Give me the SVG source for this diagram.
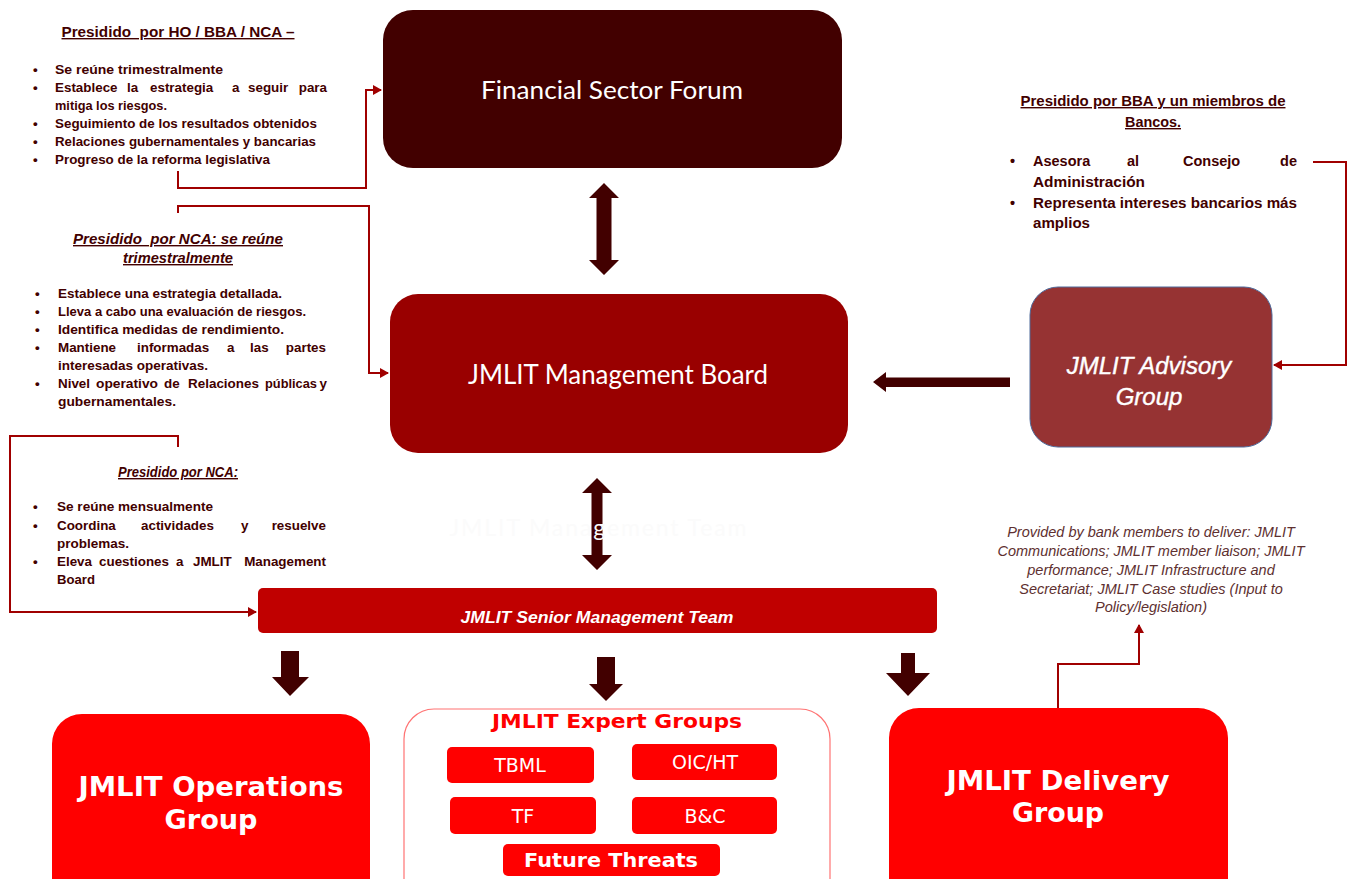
<svg xmlns="http://www.w3.org/2000/svg" width="1350" height="879" viewBox="0 0 1350 879">
<defs>
<style>
.note{font-family:"Liberation Sans",Arial,sans-serif;font-weight:bold;font-size:13.4px;fill:#420000}
.note .e{text-anchor:end}
.ttl{font-family:"Liberation Sans",Arial,sans-serif;font-weight:bold;font-size:14px;fill:#420000;text-decoration:underline}
.ittl{font-family:"Liberation Sans",Arial,sans-serif;font-weight:bold;font-style:italic;font-size:14px;fill:#420000;text-decoration:underline}
.rn{font-family:"Liberation Sans",Arial,sans-serif;font-weight:bold;font-size:14.5px;fill:#420000}
.rn .e{text-anchor:end}
.big{font-family:Lato,"Open Sans",sans-serif;fill:#ffffff;text-anchor:middle}
.bot{font-family:"DejaVu Sans",Verdana,sans-serif;font-weight:bold;fill:#ffffff;text-anchor:middle}
.sub{font-family:"DejaVu Sans",Verdana,sans-serif;fill:#ffffff;text-anchor:middle;font-size:19px}
.prov{font-family:"Liberation Sans",Arial,sans-serif;font-style:italic;font-size:14.5px;fill:#5e3030;text-anchor:middle}
.con{fill:none;stroke:#a00000;stroke-width:2}
.fat{fill:#420000}
</style>
<marker id="ah" markerWidth="10" markerHeight="10" refX="8" refY="5" orient="auto" markerUnits="userSpaceOnUse">
<path d="M0,0 L9,5 L0,10 z" fill="#a00000"/>
</marker>
</defs>
<rect width="1350" height="879" fill="#ffffff"/>

<!-- Connectors -->
<g id="connectors">
<path class="con" d="M178,171 V188 H366 V90 H381" marker-end="url(#ah)"/>
<path class="con" d="M178,213 V206 H369 V373 H388" marker-end="url(#ah)"/>
<path class="con" d="M178,447 V436 H10 V612 H256" marker-end="url(#ah)"/>
<path class="con" d="M1313,162 H1346 V365 H1274" marker-end="url(#ah)"/>
<path class="con" d="M1058,708 V664 H1139 V625" marker-end="url(#ah)"/>
<polygon class="fat" points="604,183 619,198 611.5,198 611.5,260 619,260 604,275 589,260 596.5,260 596.5,198 589,198"/>
<polygon class="fat" points="597,478 612,493 602.5,493 602.5,555 612,555 597,570 582,555 591.5,555 591.5,493 582,493"/>
<polygon class="fat" points="873,382 886,372 886,377.5 1010,377.5 1010,387 886,387 886,392"/>
<polygon class="fat" points="281,651 299,651 299,677 309,677 290,696 272,677 281,677"/>
<polygon class="fat" points="597,657 615,657 615,684 623,684 606,701 589,684 597,684"/>
<polygon class="fat" points="901,653 915,653 915,673 930,673 908,696 886,673 901,673"/>
</g>

<!-- Financial Sector Forum -->
<g id="fsf">
<rect x="383" y="10" width="459" height="158" rx="30" fill="#420000"/>
<text class="big" x="612" y="99" font-size="25" textLength="262" lengthAdjust="spacingAndGlyphs">Financial Sector Forum</text>
</g>

<!-- Management Board -->
<g id="mgmt-board">
<rect x="390" y="294" width="458" height="159" rx="28" fill="#990000"/>
<text class="big" x="618" y="384" font-size="26" textLength="300" lengthAdjust="spacingAndGlyphs">JMLIT Management Board</text>
</g>

<!-- Advisory Group -->
<g id="advisory">
<rect x="1030" y="287" width="242" height="160" rx="28" fill="#963333" stroke="#4f6a9a" stroke-width="1"/>
<text x="1149" y="374" font-family="Liberation Sans,Arial,sans-serif" font-style="italic" font-size="24" fill="#ffffff" stroke="#ffffff" stroke-width="0.4" text-anchor="middle">JMLIT Advisory</text>
<text x="1149" y="405" font-family="Liberation Sans,Arial,sans-serif" font-style="italic" font-size="24" fill="#ffffff" stroke="#ffffff" stroke-width="0.4" text-anchor="middle">Group</text>
</g>

<!-- faint label -->
<g id="faint">
<text x="598" y="536" font-family="Lato,sans-serif" font-size="23" fill="#fbfbfb" text-anchor="middle" textLength="297">JMLIT Management Team</text>
</g>

<!-- Senior Management Team -->
<g id="smt">
<rect x="258" y="588" width="679" height="45" rx="5" fill="#c00000"/>
<text x="597" y="623" font-family="Liberation Sans,Arial,sans-serif" font-style="italic" font-weight="bold" font-size="16.5" fill="#ffffff" text-anchor="middle" textLength="273" lengthAdjust="spacingAndGlyphs">JMLIT Senior Management Team</text>
</g>

<!-- Operations Group -->
<g id="ops">
<rect x="52" y="714" width="318" height="200" rx="30" fill="#ff0000"/>
<text class="bot" x="211" y="796" font-size="26" textLength="265" lengthAdjust="spacingAndGlyphs">JMLIT Operations</text>
<text class="bot" x="211" y="829" font-size="26" textLength="93" lengthAdjust="spacingAndGlyphs">Group</text>
</g>

<!-- Expert Groups -->
<g id="expert">
<rect x="404" y="709" width="426" height="200" rx="30" fill="#ffffff" stroke="#ff7373" stroke-width="1.2"/>
<text x="617" y="728" font-family="DejaVu Sans,Verdana,sans-serif" font-weight="bold" font-size="19.5" fill="#ff0000" text-anchor="middle" textLength="250" lengthAdjust="spacingAndGlyphs">JMLIT Expert Groups</text>
<rect x="447" y="747" width="147" height="36" rx="5" fill="#ff0000"/>
<text class="sub" x="520" y="772">TBML</text>
<rect x="632" y="744" width="145" height="36" rx="5" fill="#ff0000"/>
<text class="sub" x="705" y="769">OIC/HT</text>
<rect x="450" y="797" width="146" height="37" rx="5" fill="#ff0000"/>
<text class="sub" x="523" y="823">TF</text>
<rect x="632" y="797" width="145" height="37" rx="5" fill="#ff0000"/>
<text class="sub" x="705" y="823">B&amp;C</text>
<rect x="503" y="844" width="217" height="32" rx="5" fill="#ff0000"/>
<text class="bot" x="611" y="867" font-size="19.5" textLength="174" lengthAdjust="spacingAndGlyphs">Future Threats</text>
</g>

<!-- Delivery Group -->
<g id="delivery">
<rect x="889" y="708" width="339" height="200" rx="30" fill="#ff0000"/>
<text class="bot" x="1058" y="790" font-size="26" textLength="223" lengthAdjust="spacingAndGlyphs">JMLIT Delivery</text>
<text class="bot" x="1058" y="822" font-size="26" textLength="92" lengthAdjust="spacingAndGlyphs">Group</text>
</g>

<!-- Provided by note -->
<g id="provided-note">
<text class="prov" x="1151" y="537">Provided by bank members to deliver: JMLIT</text>
<text class="prov" x="1151" y="556">Communications; JMLIT member liaison; JMLIT</text>
<text class="prov" x="1151" y="575">performance; JMLIT Infrastructure and</text>
<text class="prov" x="1151" y="594">Secretariat; JMLIT Case studies (Input to</text>
<text class="prov" x="1151" y="612">Policy/legislation)</text>
</g>

<!-- Note 1 -->
<g id="note-fsf">
<text class="ttl" x="178" y="37" text-anchor="middle" textLength="233" lengthAdjust="spacingAndGlyphs" xml:space="preserve">Presidido  por HO / BBA / NCA –</text>
<g class="note">
<text x="33" y="74">•</text><text x="55" y="74" textLength="168" lengthAdjust="spacingAndGlyphs">Se reúne trimestralmente</text>
<text x="33" y="92">•</text>
<text x="55" y="92">Establece</text><text x="127" y="92">la</text><text x="150" y="92">estrategia</text><text x="232" y="92">a</text><text x="248" y="92">seguir</text><text class="e" x="327" y="92">para</text>
<text x="55" y="110" textLength="112" lengthAdjust="spacingAndGlyphs">mitiga los riesgos.</text>
<text x="33" y="128">•</text><text x="55" y="128" textLength="262" lengthAdjust="spacingAndGlyphs">Seguimiento de los resultados obtenidos</text>
<text x="33" y="146">•</text><text x="55" y="146" textLength="261" lengthAdjust="spacingAndGlyphs">Relaciones gubernamentales y bancarias</text>
<text x="33" y="164">•</text><text x="55" y="164" textLength="215" lengthAdjust="spacingAndGlyphs">Progreso de la reforma legislativa</text>
</g>
</g>

<!-- Note 2 -->
<g id="note-board">
<text class="ittl" x="178" y="244" text-anchor="middle" textLength="210" lengthAdjust="spacingAndGlyphs" xml:space="preserve">Presidido  por NCA: se reúne</text>
<text class="ittl" x="178" y="263" text-anchor="middle" textLength="110" lengthAdjust="spacingAndGlyphs">trimestralmente</text>
<g class="note">
<text x="35" y="298">•</text><text x="58" y="298" textLength="224" lengthAdjust="spacingAndGlyphs">Establece una estrategia detallada.</text>
<text x="35" y="316">•</text><text x="58" y="316" textLength="248" lengthAdjust="spacingAndGlyphs">Lleva a cabo una evaluación de riesgos.</text>
<text x="35" y="334">•</text><text x="58" y="334" textLength="226" lengthAdjust="spacingAndGlyphs">Identifica medidas de rendimiento.</text>
<text x="35" y="352">•</text>
<text x="58" y="352">Mantiene</text><text x="137" y="352">informadas</text><text x="227" y="352">a</text><text x="250" y="352">las</text><text class="e" x="326" y="352">partes</text>
<text x="58" y="370" textLength="150" lengthAdjust="spacingAndGlyphs">interesadas operativas.</text>
<text x="35" y="388">•</text>
<text x="58" y="388">Nivel</text><text x="96" y="388" textLength="62" lengthAdjust="spacingAndGlyphs">operativo</text><text x="164" y="388">de</text><text x="188" y="388" textLength="71" lengthAdjust="spacingAndGlyphs">Relaciones</text><text x="265" y="388" textLength="52" lengthAdjust="spacingAndGlyphs">públicas</text><text class="e" x="327" y="388">y</text>
<text x="58" y="406" textLength="118" lengthAdjust="spacingAndGlyphs">gubernamentales.</text>
</g>
</g>

<!-- Note 3 -->
<g id="note-smt">
<text class="ittl" x="178" y="477" text-anchor="middle" font-size="13" textLength="120" lengthAdjust="spacingAndGlyphs">Presidido por NCA:</text>
<g class="note">
<text x="33" y="511">•</text><text x="57" y="511" textLength="156" lengthAdjust="spacingAndGlyphs">Se reúne mensualmente</text>
<text x="33" y="530">•</text>
<text x="57" y="530">Coordina</text><text x="141" y="530">actividades</text><text x="241" y="530">y</text><text class="e" x="326" y="530">resuelve</text>
<text x="57" y="548" textLength="72" lengthAdjust="spacingAndGlyphs">problemas.</text>
<text x="33" y="566">•</text>
<text x="57" y="566">Eleva</text><text x="99" y="566">cuestiones</text><text x="176" y="566">a</text><text x="193" y="566">JMLIT</text><text class="e" x="326" y="566">Management</text>
<text x="57" y="584" textLength="38" lengthAdjust="spacingAndGlyphs">Board</text>
</g>
</g>

<!-- Note 4 -->
<g id="note-advisory">
<text class="ttl" x="1153" y="106" text-anchor="middle" font-size="14.5" textLength="265" lengthAdjust="spacingAndGlyphs">Presidido por BBA y un miembros de</text>
<text class="ttl" x="1153" y="127" text-anchor="middle" font-size="14.5" textLength="56" lengthAdjust="spacingAndGlyphs">Bancos.</text>
<g class="rn">
<text x="1010" y="166">•</text>
<text x="1033" y="166">Asesora</text><text x="1127" y="166">al</text><text x="1183" y="166">Consejo</text><text class="e" x="1297" y="166">de</text>
<text x="1033" y="187" textLength="112" lengthAdjust="spacingAndGlyphs">Administración</text>
<text x="1010" y="208">•</text><text x="1033" y="208" textLength="264" lengthAdjust="spacingAndGlyphs">Representa intereses bancarios más</text>
<text x="1033" y="228" textLength="57" lengthAdjust="spacingAndGlyphs">amplios</text>
</g>
</g>
</svg>
